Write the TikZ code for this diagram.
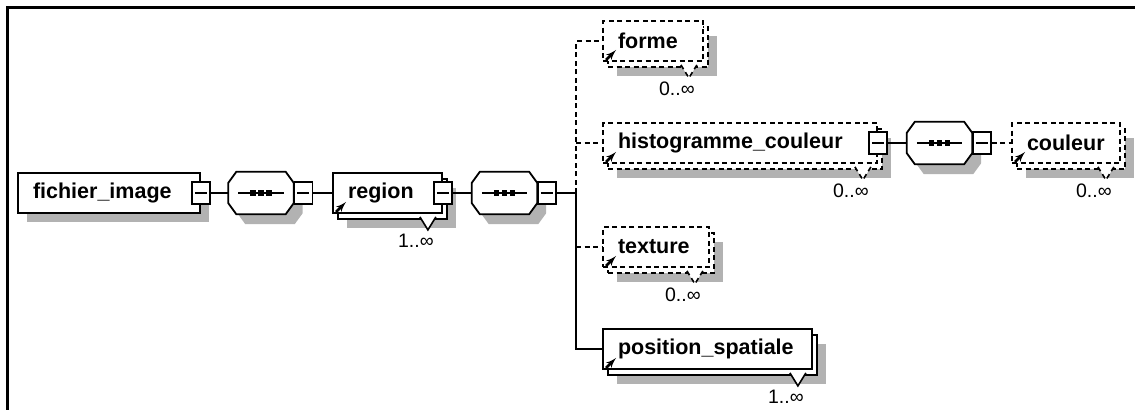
\documentclass[tikz,border=0pt]{standalone}
\usepackage{fontspec}
\setmainfont{Liberation Sans}
\usetikzlibrary{arrows}

\tikzset{elem/.style = {draw, fill=white, line width=1.8, minimum height=40, inner sep=0,
  text width=#1, align=left, font=\bfseries\fontsize{21.5}{25}\selectfont,
  execute at begin node=\hspace*{15pt}}}
\tikzset{shadowed/.style = {preaction={fill=black!30, transform canvas={shift={(9,9)}}}}}
\tikzset{multi/.style = {preaction={fill=black!30, transform canvas={shift={(14,15)}}},
  preaction={draw, fill=white, transform canvas={shift={(5,6)}}}}}
\tikzset{opt/.style = {dash pattern=on 5pt off 3.5pt}}
\tikzset{link/.style = {line width=1.6}}
\tikzset{collapse/.style = {draw, fill=white, line width=1.5, minimum width=18, minimum height=22, inner sep=0,
  path picture={\draw[line width=1.5] ([xshift=3]path picture bounding box.west) -- ([xshift=-3]path picture bounding box.east);}}}
\tikzset{seqbase/.style = {minimum width=65, minimum height=42, inner sep=0}}
\tikzset{multlabel/.style = {inner sep=0, font=\fontsize{19.5}{22}\selectfont}}
\tikzset{refarrow/.style = {line width=2.6, -latex'}}

% octagon outline of a sequence node
\newcommand{\octpath}[1]{([shift={(8,0)}]#1.north west) -- ([shift={(-8,0)}]#1.north east)
  -- ([shift={(0,11)}]#1.north east) -- ([shift={(0,-11)}]#1.south east)
  -- ([shift={(-8,0)}]#1.south east) -- ([shift={(8,0)}]#1.south west)
  -- ([shift={(0,-11)}]#1.south west) -- ([shift={(0,11)}]#1.north west) -- cycle}
\newcommand{\seqbox}[2]{%
  \node[seqbase] (#1) at #2 {};
  \fill[black!30, transform canvas={shift={(9,10)}}] \octpath{#1};
  \filldraw[fill=white, line width=1.8] \octpath{#1};
  \draw[link] ([shift={(10,0)}]#1.west) -- ([shift={(-10,0)}]#1.east);
  \foreach \d in {-8,0,8}
    \fill[black] ([shift={(\d,0)}]#1.center) +(-2.6,-2.6) rectangle +(2.6,2.6);}
% multiplicity mark under a node
\newcommand{\mult}[3][]{%
  \draw[link, fill=white, #1] ([shift={(-23,3)}]#2.south east) -- ([shift={(-15,16)}]#2.south east) -- ([shift={(-7,3)}]#2.south east);
  \node[multlabel, anchor=north east] (#2-m) at ([shift={(-9,20)}]#2.south east) {#3};}
% reference arrow
\newcommand{\refmark}[1]{\draw[refarrow] ([shift={(4,-2)}]#1.south west) -- ++(10,-10);}

\begin{document}
\begin{tikzpicture}[x=1pt, y=-1pt]

\useasboundingbox (0,0) rectangle (1135,410);
%frame
\draw[line width=2.5] (1135,7.5) -- (7.5,7.5) -- (7.5,410);

%elements
\node[elem=182, shadowed] (fichier) at (109,193) {fichier\_image};
\node[collapse] (fichier-c) at (fichier.east) {};
\seqbox{seq1}{(261,193)}
\node[collapse, anchor=west] (seq1-c) at (seq1.east) {};
\node[elem=109, multi] (region) at (387.5,193) {region};
\node[collapse] (region-c) at (region.east) {};
\seqbox{seq2}{(504.5,193)}
\node[collapse, anchor=west] (seq2-c) at (seq2.east) {};
\coordinate (bus) at (576,193);

\node[elem=100, multi, opt] (forme) at (653,41) {forme};
\node[elem=274, multi, opt] (histo) at (740,143) {histogramme\_couleur};
\node[collapse] (histo-c) at (histo.east) {};
\seqbox{seq3}{(939.5,143)}
\node[collapse, anchor=west] (seq3-c) at (seq3.east) {};
\node[elem=108, multi, opt] (couleur) at (1066,143) {couleur};
\node[elem=106, multi, opt] (texture) at (656,247) {texture};
\node[elem=209, multi] (position) at (707.5,349) {position\_spatiale};

%marks
\mult{region}{1..∞}
\mult[opt]{forme}{0..∞}
\mult[opt]{histo}{0..∞}
\mult[opt]{couleur}{0..∞}
\mult[opt]{texture}{0..∞}
\mult{position}{1..∞}
\refmark{region}
\refmark{forme}
\refmark{histo}
\refmark{couleur}
\refmark{texture}
\refmark{position}

%links
\draw[link] (fichier-c) -- (seq1);
\draw[link] (seq1-c) -- (region);
\draw[link] (region-c) -- (seq2);
\draw[link] (seq2-c) -- (bus);
\draw[link, opt] (bus) |- (forme);
\draw[link, opt] (histo.west -| bus) -- (histo);
\draw[link, opt] (texture.west -| bus) -- (texture);
\draw[link] (bus) |- (position);
\draw[link] (histo-c) -- (seq3);
\draw[link, opt] (seq3-c) -- (couleur);

\end{tikzpicture}
\end{document}
